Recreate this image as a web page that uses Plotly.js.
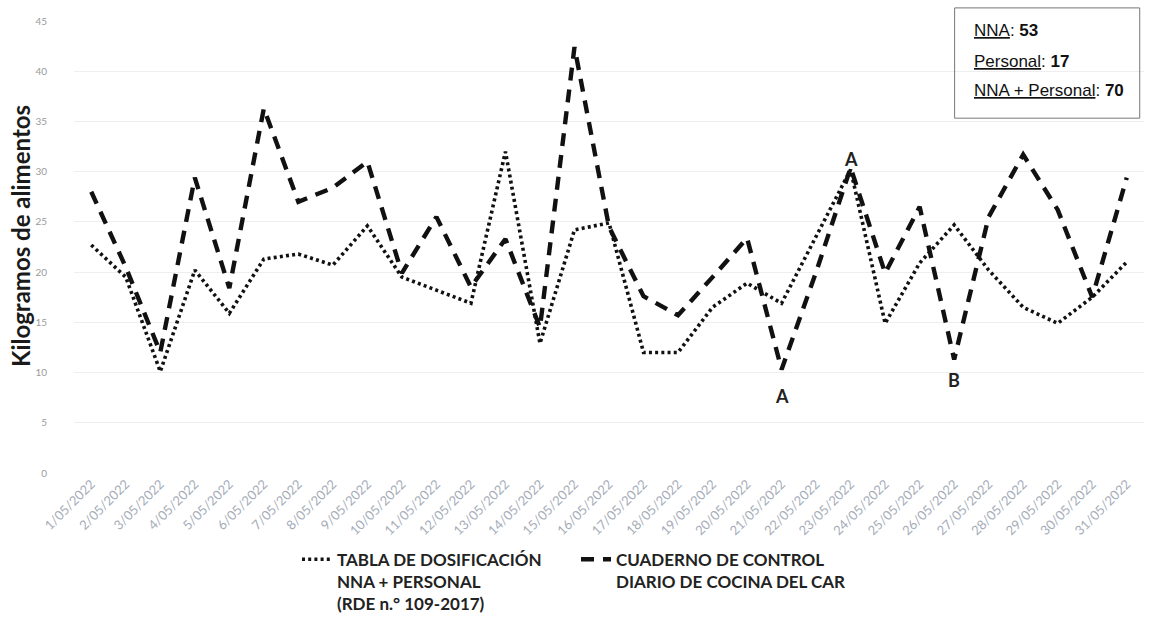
<!DOCTYPE html>
<html>
<head>
<meta charset="utf-8">
<script src="https://cdn.plot.ly/plotly-3.0.1.min.js"></script>
<style>html,body{margin:0;padding:0;background:#fff;}#chart{width:1153px;height:643px;}</style>
</head>
<body>
<div id="chart"></div>
<script>
const dates = ["1/05/2022","2/05/2022","3/05/2022","4/05/2022","5/05/2022","6/05/2022","7/05/2022","8/05/2022","9/05/2022","10/05/2022","11/05/2022","12/05/2022","13/05/2022","14/05/2022","15/05/2022","16/05/2022","17/05/2022","18/05/2022","19/05/2022","20/05/2022","21/05/2022","22/05/2022","23/05/2022","24/05/2022","25/05/2022","26/05/2022","27/05/2022","28/05/2022","29/05/2022","30/05/2022","31/05/2022"];
const tablaDosificacion = [22.7,19.5,10.1,20.2,15.9,21.3,21.8,20.7,24.6,19.5,18.2,16.9,32.0,12.9,24.2,24.9,12.0,12.0,16.5,18.9,16.9,23.5,30.2,14.9,20.9,24.7,20.2,16.5,14.9,17.5,21.0];
const cuadernoControl = [28.0,20.5,12.0,29.4,18.4,36.3,27.0,28.4,31.0,19.9,25.5,18.5,23.3,14.5,42.4,24.5,17.6,15.7,19.5,23.4,10.3,20.0,30.4,19.9,26.5,11.3,25.5,31.7,26.2,17.5,29.4];
const seriesNames = ["TABLA DE DOSIFICACIÓN<br>NNA + PERSONAL<br>(RDE n.° 109-2017)","CUADERNO DE CONTROL<br>DIARIO DE COCINA DEL CAR"];
const yTitle = "Kilogramos de alimentos";
const boxLines = ["<u>NNA</u>: <b>53</b>","<u>Personal</u>: <b>17</b>","<u>NNA + Personal</u>: <b>70</b>"];
const markLetters = [{idx:20, text:"A", shift:-26},{idx:22, text:"A", shift:9},{idx:25, text:"B", shift:-20}];

const traces = [
  {x: dates, y: tablaDosificacion, type:'scatter', mode:'lines', name: seriesNames[0],
   line:{color:'#111', width:3.6, dash:'3px,3.2px'}},
  {x: dates, y: cuadernoControl, type:'scatter', mode:'lines', name: seriesNames[1],
   line:{color:'#111', width:4.4, dash:'13px,9px'}}
];

const annotations = [
  {xref:'paper', yref:'paper', x:-0.066, y:0.524, text:'<b>'+yTitle+'</b>', textangle:-90, showarrow:false,
   font:{family:'Lato', size:24, color:'#1a1a1a'}}
];
markLetters.forEach(m => annotations.push({x: dates[m.idx], y: cuadernoControl[m.idx], xref:'x', yref:'y', text:'<b>'+m.text+'</b>',
  showarrow:false, yshift:m.shift, font:{family:'Lato', size:18, color:'#222'}}));
const boxY = [0.978, 0.911, 0.847];
boxLines.forEach((t,i) => annotations.push({xref:'paper', yref:'paper', x:0.839, y:boxY[i], xanchor:'left', yanchor:'middle',
  text:t, showarrow:false, font:{family:'Liberation Sans', size:17, color:'#111'}}));

const layout = {
  width:1153, height:643,
  margin:{l:74, r:9, t:21, b:170},
  paper_bgcolor:'#fff', plot_bgcolor:'#fff',
  showlegend:true,
  xaxis:{type:'category', range:[-0.5,30.5], tickangle:-45, showgrid:false, zeroline:false, showline:false, ticks:'',
    tickfont:{family:'Lato', size:13, color:'#a5acb8'}},
  yaxis:{range:[0,45], dtick:5, showgrid:true, gridcolor:'#eeeeee', gridwidth:1, zeroline:false, showline:false, ticks:'',
    ticklabelstandoff:26, tickfont:{family:'Lato', size:10, color:'#9a9a9a'}},
  legend:{orientation:'h', x:0.2084, y:-0.152, xanchor:'left', yanchor:'top', valign:'top', traceorder:'normal',
    entrywidth:234, font:{family:'Lato', size:17, color:'#222', weight:'bold'}},
  shapes:[{type:'rect', xref:'paper', yref:'paper', x0:0.823, x1:0.996, y0:0.785, y1:1.029,
    line:{color:'#777', width:1}, fillcolor:'rgba(0,0,0,0)'}],
  annotations: annotations
};
Plotly.newPlot('chart', traces, layout, {displayModeBar:false, staticPlot:true});
</script>
</body>
</html>
